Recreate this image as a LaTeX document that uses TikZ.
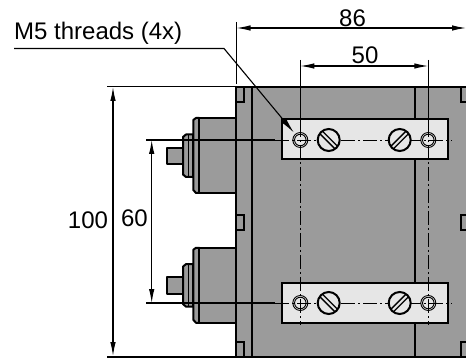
\documentclass[tikz,border=0pt]{standalone}
\usepackage{fontspec}
\setmainfont{Liberation Sans}
\usetikzlibrary{arrows.meta}
\definecolor{bodygray}{HTML}{9B9B9B}
\definecolor{plategray}{HTML}{E6E6E6}
\tikzset{
  part/.style={draw=black,line width=2pt,fill=bodygray,line join=round},
  edge/.style={draw=black,line width=2pt},
  plate/.style={draw=black,line width=2pt,fill=plategray},
  thin line/.style={draw=black,line width=1.1pt},
  dim/.style={draw=black,line width=1.1pt,{Latex[length=14pt,width=5.5pt]}-{Latex[length=14pt,width=5.5pt]}},
  center line/.style={draw=black,line width=0.9pt,dash pattern=on 14pt off 3pt on 2pt off 3pt},
  label/.style={font=\fontsize{24}{28}\selectfont,inner sep=0pt},
  screwhead/.style={draw=black,line width=2pt,circle,minimum size=22pt,inner sep=0pt,fill=plategray},
  holeouter/.style={draw=black,line width=0.9pt,circle,minimum size=15pt,inner sep=0pt},
  holeinner/.style={draw=black,line width=0.9pt,circle,minimum size=11.5pt,inner sep=0pt},
}
\newcommand{\connector}[2]{%
  \begin{scope}[shift={(0,#1)}]
    \draw[part] (166.7,147.7) rectangle (183,164);
    \draw[part] (193,134.5) -- (186,134.5) -- (183,137) -- (183,174.5) -- (186,177) -- (193,177) -- cycle;
    \draw[edge,line width=1.4pt] (188.5,134.5) -- (188.5,177);
  \end{scope}
  \begin{scope}[shift={(0,#2)}]
    \draw[part] (199.3,118) -- (196,118) -- (193.3,120) -- (193.3,190) -- (196,193) -- (199.3,193) -- cycle;
    \draw[part] (199.3,118) rectangle (236,193);
  \end{scope}}
\begin{document}
\begin{tikzpicture}[x=1pt,y=-1pt]
\useasboundingbox (0,0) rectangle (466,358);
% body
\fill[bodygray] (236,87) rectangle (466,356.5);
\connector{0}{0}
\connector{129.6}{129.8}
\draw[edge] (236,87) -- (236,356.5);
\draw[edge] (252,87) -- (252,356.5);
\draw[edge] (415,87) -- (415,356.5);
\draw[edge] (235,87) -- (466,87);
% notches
\foreach \ya/\yb in {87/102,215/230,342/356.5}{
  \draw[edge] (236,\ya) rectangle (243.7,\yb);
  \draw[edge] (467,\ya) -- (461,\ya) -- (461,\yb) -- (467,\yb);
}
% plates
\draw[plate] (281.7,119.5) rectangle (448.3,159.5);
\draw[plate] (281.7,282.5) rectangle (448.3,322.7);
% coordinates
\coordinate (hA) at (300.3,140);
\coordinate (hB) at (428.3,140);
\coordinate (hC) at (300.3,303);
\coordinate (hD) at (428.3,303);
% extension and centre lines
\coordinate (e100t) at (107,86.5);
\coordinate (e100b) at (107,356.5);
\coordinate (b100t) at (236,86.5);
\coordinate (b100b) at (466,356.5);
\draw[thin line] (e100t) -- (b100t);
\draw[edge] (e100b) -- (b100b);
\coordinate (e60a) at (146,140);
\coordinate (e60ae) at (275,140);
\coordinate (e60b) at (146,303);
\coordinate (e60be) at (275,303);
\coordinate (cra) at (452,140);
\coordinate (crb) at (452,303);
\draw[thin line] (e60a) -- (e60ae);
\draw[thin line] (e60b) -- (e60be);
\draw[center line] (e60ae) -- (cra);
\draw[center line] (e60be) -- (crb);
\coordinate (v50at) at (300.3,60);
\coordinate (v50am) at (300.3,123);
\coordinate (v50ab) at (300.3,325);
\coordinate (v50bt) at (428.3,60);
\coordinate (v50bm) at (428.3,123);
\coordinate (v50bb) at (428.3,325);
\draw[thin line] (v50at) -- (v50am);
\draw[thin line] (v50bt) -- (v50bm);
\draw[center line] (v50am) -- (v50ab);
\draw[center line] (v50bm) -- (v50bb);
\coordinate (v86t) at (236.5,22);
\coordinate (v86b) at (236.5,84);
\draw[thin line] (v86t) -- (v86b);
% screws
\foreach \n/\x/\y/\ang in {sa/328.7/140/-45,sb/399.7/140/45,sc/328.7/303/-45,sd/399.7/303/45}{
  \node[screwhead] (\n) at (\x,\y) {};
  \begin{scope}[shift={(\x,\y)},rotate=\ang]
    \draw[line width=1.3pt] (-10.5,-1.8) -- (10.5,-1.8);
    \draw[line width=1.3pt] (-10.5,1.8) -- (10.5,1.8);
  \end{scope}
}
% holes
\foreach \n in {A,B,C,D}{
  \node[holeouter] (oh\n) at (h\n) {};
  \node[holeinner] (ih\n) at (h\n) {};
}
% dimensions
\coordinate (d86a) at (236.5,28);
\coordinate (d86b) at (466,28);
\coordinate (d50a) at (300.3,66);
\coordinate (d50b) at (428.3,66);
\coordinate (d100a) at (113,87);
\coordinate (d100b) at (113,356);
\coordinate (d60a) at (151.7,140);
\coordinate (d60b) at (151.7,303);
\draw[dim] (d86a) -- (d86b);
\draw[dim] (d50a) -- (d50b);
\draw[dim] (d100a) -- (d100b);
\draw[dim] (d60a) -- (d60b);
% leader
\coordinate (lead0) at (14,48.5);
\coordinate (lead1) at (224,48.5);
\coordinate (lead2) at (294,132.7);
\draw[thin line,-{Latex[length=16pt,width=6pt]}] (lead0) -- (lead1) -- (lead2);
% labels
\node[label] (t86) at (352.5,18) {86};
\node[label] (t50) at (365,55) {50};
\node[label] (t100) at (88,220.5) {100};
\node[label] (t60) at (134.5,218) {60};
\node[label,anchor=base west] (tm5) at (14,39.5) {M5 threads (4x)};
\end{tikzpicture}
\end{document}
